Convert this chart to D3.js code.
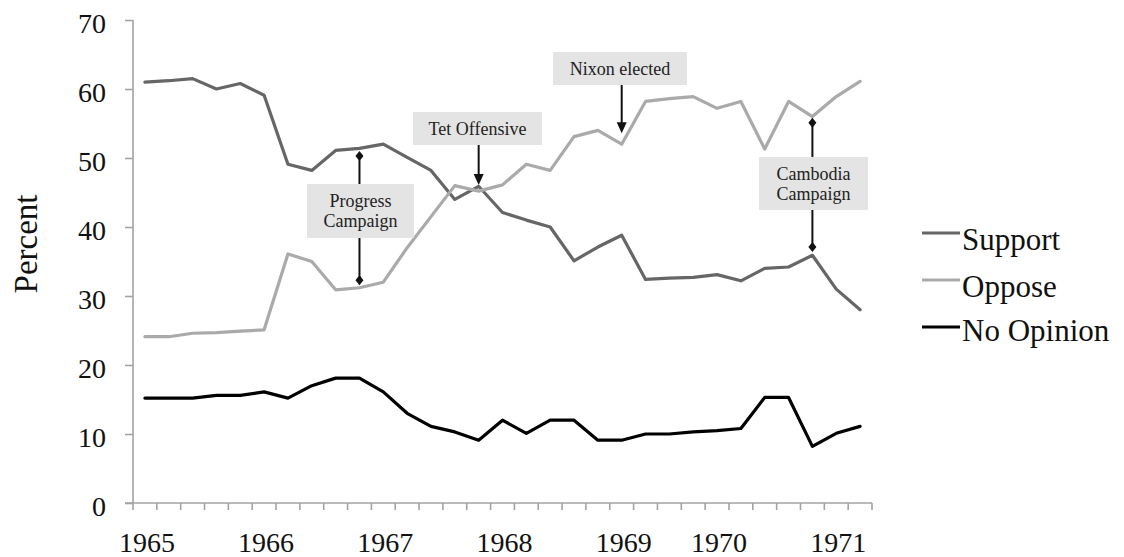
<!DOCTYPE html>
<html><head><meta charset="utf-8">
<script src="https://cdn.jsdelivr.net/npm/d3@7"></script>
<style>body{margin:0;background:#fff}svg{display:block}</style>
</head><body>
<svg id="c" width="1124" height="557"></svg>
<script>
// ---- data ----
const polls = [1,2,3,4,5,6,7,8,9,10,11,12,13,14,15,16,17,18,19,20,21,22,23,24,25,26,27,28,29,30,31];
const yearLabels = ["1965","1966","1967","1968","1969","1970","1971"];
const yearLabelPolls = [1,6,11,16,21,25,30];
const yTicks = [0,10,20,30,40,50,60,70];
const seriesNames = ["Support","Oppose","No Opinion"];
const support = [61.0,61.2,61.5,60.0,60.8,59.1,49.1,48.2,51.1,51.4,52.0,50.1,48.2,44.0,45.9,42.1,41.0,40.0,35.1,37.1,38.8,32.4,32.6,32.7,33.1,32.2,34.0,34.2,35.9,31.0,28.0];
const oppose = [24.1,24.1,24.6,24.7,24.9,25.1,36.1,35.0,30.9,31.2,32.0,37.0,41.5,46.0,45.2,46.1,49.1,48.2,53.1,54.0,52.0,58.2,58.6,58.9,57.2,58.2,51.3,58.2,56.0,58.9,61.1];
const noOpinion = [15.2,15.2,15.2,15.6,15.6,16.1,15.2,17.0,18.1,18.1,16.1,13.0,11.1,10.3,9.1,12.0,10.1,12.0,12.0,9.1,9.1,10.0,10.0,10.3,10.5,10.8,15.3,15.3,8.2,10.1,11.1];
const seriesColors = ["#666666","#aaaaaa","#000000"];

// annotations: poll, arrow tip values
const annotations = [
  {lines:["Progress","Campaign"], poll:10, box:[307,184,107,54], top:50.3, bottom:32.3, kind:"double"},
  {lines:["Tet Offensive"], poll:15, box:[413,112,129,33], tip:46.1, kind:"down"},
  {lines:["Nixon elected"], poll:21, box:[553,52,134,33], tip:53.6, kind:"down"},
  {lines:["Cambodia","Campaign"], poll:29, box:[759,157,109,53], top:55.1, bottom:37.1, kind:"double"}
];

const svg = d3.select("#c");
const font = "'Liberation Serif','Times New Roman',serif";
const axisColor = "#a3a3a3";

const x = d3.scaleBand().domain(polls).range([133,872]).padding(0);
const y = d3.scaleLinear().domain([0,70]).range([503,20]);
const xc = p => x(p) + x.bandwidth()/2;

// y axis
const yAxis = d3.axisLeft(y).tickValues(yTicks).tickSize(8).tickFormat(d3.format("d"));
const gy = svg.append("g").attr("transform","translate(133,0)").call(yAxis);
gy.select(".domain").attr("stroke",axisColor).attr("stroke-width",1.6).attr("d","M0,20V503");
gy.selectAll(".tick line").attr("stroke",axisColor).attr("stroke-width",1.6);
gy.selectAll(".tick text").attr("font-family",font).attr("font-size",28).attr("fill","#111")
  .attr("x",-27).attr("dy","0.43em");

// x axis
const gx = svg.append("g").attr("transform","translate(0,503)");
gx.append("line").attr("x1",125).attr("x2",872).attr("y1",0).attr("y2",0)
  .attr("stroke",axisColor).attr("stroke-width",1.6);
const bounds = polls.map(p => x(p)).concat([x(polls[polls.length-1]) + x.bandwidth()]);
gx.selectAll("line.tk").data(bounds).join("line").attr("class","tk")
  .attr("x1",d=>d).attr("x2",d=>d).attr("y1",0).attr("y2",7)
  .attr("stroke",axisColor).attr("stroke-width",1.6);
gx.selectAll("text").data(yearLabels).join("text")
  .attr("x",(d,i)=>xc(yearLabelPolls[i])+2).attr("y",49)
  .attr("text-anchor","middle").attr("font-family",font).attr("font-size",28).attr("fill","#111")
  .text(d=>d);

// y title
svg.append("text").attr("transform","translate(37,244) rotate(-90)")
  .attr("text-anchor","middle").attr("font-family",font).attr("font-size",33).attr("fill","#111")
  .text("Percent");

// lines
const allSeries = [support, oppose, noOpinion];
const line = d3.line().x((d,i)=>xc(polls[i])).y(d=>y(d));
svg.append("g").selectAll("path").data(allSeries).join("path")
  .attr("d", d=>line(d)).attr("fill","none")
  .attr("stroke",(d,i)=>seriesColors[i]).attr("stroke-width",3.2)
  .attr("stroke-linejoin","round").attr("stroke-linecap","round");

// annotations
const ga = svg.append("g");
function diamond(g, cx, cy){
  g.append("path").attr("d",`M${cx},${cy-5}L${cx+4},${cy}L${cx},${cy+5}L${cx-4},${cy}Z`).attr("fill","#111");
}
annotations.forEach(a=>{
  const [bx,by,bw,bh] = a.box;
  const ax = xc(a.poll);
  ga.append("rect").attr("x",bx).attr("y",by).attr("width",bw).attr("height",bh).attr("fill","#e4e4e4");
  const cx = bx + bw/2;
  const lh = 20;
  const startY = by + bh/2 - (a.lines.length-1)*lh/2 + 6;
  a.lines.forEach((t,j)=>{
    ga.append("text").attr("x",cx).attr("y",startY + j*lh).attr("text-anchor","middle")
      .attr("font-family",font).attr("font-size",18).attr("fill","#222").text(t);
  });
  if(a.kind==="down"){
    const ty = y(a.tip);
    ga.append("line").attr("x1",ax).attr("x2",ax).attr("y1",by+bh).attr("y2",ty-8)
      .attr("stroke","#111").attr("stroke-width",2);
    ga.append("path").attr("d",`M${ax-5},${ty-11}L${ax+5},${ty-11}L${ax},${ty}Z`).attr("fill","#111");
  } else {
    const t1 = y(a.top), t2 = y(a.bottom);
    ga.append("line").attr("x1",ax).attr("x2",ax).attr("y1",by).attr("y2",t1)
      .attr("stroke","#111").attr("stroke-width",2);
    ga.append("line").attr("x1",ax).attr("x2",ax).attr("y1",by+bh).attr("y2",t2)
      .attr("stroke","#111").attr("stroke-width",2);
    diamond(ga, ax, t1); diamond(ga, ax, t2);
  }
});

// legend
const gl = svg.append("g");
seriesNames.forEach((n,i)=>{
  const ly = 233 + i*47;
  gl.append("line").attr("x1",922).attr("x2",960).attr("y1",ly).attr("y2",ly)
    .attr("stroke",seriesColors[i]).attr("stroke-width",3.2);
  gl.append("text").attr("x",962).attr("y",ly+17 - (i===2?3:0)).attr("font-family",font)
    .attr("font-size",31).attr("fill","#111").text(n);
});
</script>
</body></html>
